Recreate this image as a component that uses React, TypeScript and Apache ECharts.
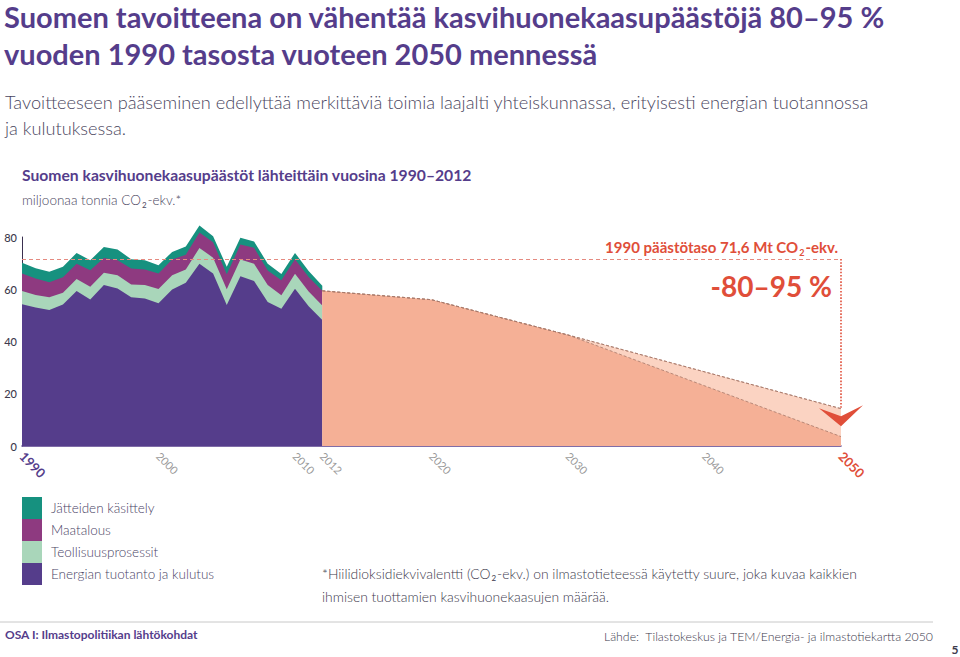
import React, { useEffect, useRef } from "react";
import * as echarts from "echarts";

const years = [1990, 1991, 1992, 1993, 1994, 1995, 1996, 1997, 1998, 1999, 2000, 2001, 2002, 2003, 2004, 2005, 2006, 2007, 2008, 2009, 2010, 2011, 2012];
const energia = [54.3, 53.0, 52.1, 54.2, 59.3, 56.1, 61.6, 60.3, 56.9, 56.5, 54.6, 59.9, 62.5, 69.8, 66.0, 54.0, 65.0, 63.2, 55.1, 52.5, 60.2, 53.5, 48.2];
const teollisuus = [5.0, 4.8, 4.8, 4.5, 4.6, 4.9, 4.7, 5.1, 4.9, 5.1, 5.5, 5.5, 5.1, 6.0, 6.1, 6.0, 6.4, 6.6, 6.5, 5.2, 5.7, 5.6, 5.6];
const maatalous = [6.7, 6.3, 5.8, 5.9, 5.9, 6.3, 5.7, 5.7, 6.1, 6.0, 5.9, 6.0, 5.6, 5.9, 5.9, 5.7, 5.7, 6.1, 5.6, 5.7, 5.6, 5.6, 5.6];
const jatteet = [4.1, 3.9, 4.0, 4.0, 4.1, 3.8, 4.2, 4.1, 3.6, 3.5, 3.2, 2.9, 3.2, 2.7, 2.3, 2.9, 2.6, 2.4, 2.6, 2.4, 2.4, 2.3, 1.9];

const forecastYears = [2012, 2020, 2030, 2050];
const forecast95 = [59.4, 56.0, 42.5, 3.6];
const forecast80 = [59.4, 56.0, 42.5, 14.3];

const level1990 = 71.6;
const targetMarker = [2050, 11.6];
const labeledYears = [1990, 2000, 2010, 2012, 2020, 2030, 2040, 2050];
const yTicks = [0, 20, 40, 60, 80];

const seriesNames = ["Jätteiden käsittely", "Maatalous", "Teollisuusprosessit", "Energian tuotanto ja kulutus"];

const PURPLE = "#553d8b";
const GREEN = "#a9d6ba";
const MAGENTA = "#8e3a80";
const TEAL = "#16917f";
const RED = "#e04e39";
const SALMON = "#f5b096";
const SALMON_LIGHT = "#fbd3c2";
const FONT = "Lato, 'Open Sans', sans-serif";

function pairs(xs: number[], ys: number[]) {
  return xs.map((x, i) => [x, ys[i]]);
}

export default function App() {
  const ref = useRef<HTMLDivElement>(null);
  useEffect(() => {
    if (!ref.current) return;
    const chart = echarts.init(ref.current, null, { renderer: "svg" });
    // cumulative stacking (bottom -> top)
    const layers = [energia, teollisuus, maatalous, jatteet];
    const cum: number[][] = [];
    layers.forEach((arr, li) => {
      cum.push(arr.map((v, i) => +((li > 0 ? cum[li - 1][i] : 0) + v).toFixed(2)));
    });
    const areaSeries = (name: string, data: number[], color: string) => ({
      name,
      type: "line",
      data: pairs(years, data),
      showSymbol: false,
      symbol: "none",
      clip: false,
      lineStyle: { width: 0 },
      itemStyle: { color },
      areaStyle: { color, opacity: 1 },
      z: 3,
    });
    const option: any = {
      animation: false,
      textStyle: { fontFamily: FONT },
      grid: { left: 22, right: 119, top: 237, bottom: 211 },
      xAxis: {
        type: "value",
        min: 1990,
        max: 2050,
        interval: 2,
        splitLine: { show: false },
        axisTick: { show: false },
        axisLine: { lineStyle: { color: PURPLE, width: 1.5 } },
        axisLabel: {
          rotate: -45,
          margin: 8,
          formatter: (v: number) => {
            if (!labeledYears.includes(v)) return "";
            if (v === 1990) return "{s|" + v + "}";
            if (v === 2050) return "{e|" + v + "}";
            return "{g|" + v + "}";
          },
          rich: {
            s: { color: PURPLE, fontWeight: "bold", fontSize: 13, fontFamily: FONT },
            e: { color: RED, fontWeight: "bold", fontSize: 13, fontFamily: FONT },
            g: { color: "#9a9a9a", fontSize: 11, fontFamily: FONT },
          },
        },
      },
      yAxis: {
        type: "value",
        min: yTicks[0],
        max: yTicks[yTicks.length - 1],
        interval: 20,
        splitLine: { show: false },
        axisLine: { show: true, lineStyle: { color: "#3a3050", width: 1 } },
        axisTick: { show: false },
        axisLabel: { color: "#3d3a4d", fontSize: 11, margin: 5, padding: [0, 0, 6, 0], fontFamily: FONT, fontWeight: 500 },
      },
      legend: {
        data: seriesNames,
        orient: "vertical",
        left: 22,
        top: 497,
        padding: 0,
        itemGap: 0,
        itemWidth: 20,
        itemHeight: 22,
        icon: "rect",
        selectedMode: false,
        textStyle: { fontSize: 13.5, color: "#4a4466", fontWeight: 300, fontFamily: FONT, padding: [0, 0, 0, 4] },
      },
      series: [
        {
          name: "ref",
          type: "line",
          data: [],
          z: 1,
          silent: true,
          markLine: {
            silent: true,
            symbol: "none",
            label: { show: false },
            lineStyle: { color: "#e58a80", type: [4, 3], width: 1.2 },
            data: [{ yAxis: level1990 }],
          },
        },
        areaSeries(seriesNames[0], cum[3], TEAL),
        areaSeries(seriesNames[1], cum[2], MAGENTA),
        areaSeries(seriesNames[2], cum[1], GREEN),
        areaSeries(seriesNames[3], cum[0], PURPLE),
        {
          name: "Tavoite -80 %",
          type: "line",
          data: pairs(forecastYears, forecast80),
          showSymbol: false,
          symbol: "none",
          lineStyle: { color: "#a8786a", width: 0.8, type: [3, 2] },
          areaStyle: { color: SALMON_LIGHT, opacity: 1 },
          z: 3,
        },
        {
          name: "Tavoite -95 %",
          type: "line",
          data: pairs(forecastYears, forecast95),
          showSymbol: false,
          symbol: "none",
          lineStyle: { color: "#a8786a", width: 0.8, type: [3, 2] },
          areaStyle: { color: SALMON, opacity: 1 },
          z: 3,
        },
        {
          name: "Tavoite -80 % viiva",
          type: "line",
          data: pairs(forecastYears, forecast80),
          showSymbol: false,
          symbol: "none",
          lineStyle: { color: "#a8786a", width: 0.8, type: [3, 2] },
          z: 4,
        },
        {
          name: "markers",
          type: "line",
          data: [],
          z: 5,
          silent: true,
          markLine: {
            silent: true,
            symbol: "none",
            label: { show: false },
            lineStyle: { color: RED, type: "dotted", width: 1.6 },
            data: [[{ coord: [2050, level1990] }, { coord: [2050, forecast80[forecast80.length - 1]] }]],
          },
          markPoint: {
            silent: true,
            symbol: "path://M0,0 L22,8 L44,-3 L22,18 Z",
            symbolSize: [44, 21],
            symbolKeepAspect: false,
            itemStyle: { color: RED },
            label: { show: false },
            data: [{ coord: targetMarker }],
          },
        },
      ],
      graphic: [
        {
          type: "text", left: 4, top: 2,
          style: { text: "Suomen tavoitteena on vähentää kasvihuonekaasupäästöjä 80–95 %", font: `bold 29px ${FONT}`, fill: PURPLE },
        },
        {
          type: "text", left: 4, top: 39,
          style: { text: "vuoden 1990 tasosta vuoteen 2050 mennessä", font: `bold 29px ${FONT}`, fill: PURPLE },
        },
        {
          type: "text", left: 5, top: 93,
          style: { text: "Tavoitteeseen pääseminen edellyttää merkittäviä toimia laajalti yhteiskunnassa, erityisesti energian tuotannossa", font: `300 18.2px ${FONT}`, fill: "#4a4660" },
        },
        {
          type: "text", left: 5, top: 119,
          style: { text: "ja kulutuksessa.", font: `300 18.2px ${FONT}`, fill: "#4a4660" },
        },
        {
          type: "text", left: 22, top: 167,
          style: { text: "Suomen kasvihuonekaasupäästöt lähteittäin vuosina 1990–2012", font: `bold 15.7px ${FONT}`, fill: PURPLE },
        },
        {
          type: "text", left: 22, top: 193,
          style: {
            text: "{a|miljoonaa tonnia CO}{b|2}{a|-ekv.*}",
            rich: {
              a: { fontSize: 13.5, fontFamily: FONT, fill: "#4a4660", fontWeight: 300 },
              b: { fontSize: 8, fontFamily: FONT, fill: "#4a4660", padding: [9, 1, 0, 1] },
            },
          },
        },
        {
          type: "text", x: 838, y: 247,
          style: {
            text: "{a|1990 päästötaso 71,6 Mt CO}{b|2}{a|-ekv.}",
            align: "right", verticalAlign: "middle",
            rich: {
              a: { fontSize: 15, fontFamily: FONT, fill: RED, fontWeight: "bold" },
              b: { fontSize: 9, fontFamily: FONT, fill: RED, fontWeight: "bold", padding: [10, 1, 0, 1] },
            },
          },
        },
        {
          type: "text", x: 832, y: 286,
          style: { text: "-80–95 %", align: "right", verticalAlign: "middle", font: `bold 28px ${FONT}`, fill: RED },
        },
        {
          type: "text", left: 322, top: 566,
          style: {
            text: "{a|*Hiilidioksidiekvivalentti (CO}{b|2}{a|-ekv.) on ilmastotieteessä käytetty suure, joka kuvaa kaikkien}",
            rich: {
              a: { fontSize: 13.9, fontFamily: FONT, fill: "#3d3a4d", fontWeight: 300 },
              b: { fontSize: 8, fontFamily: FONT, fill: "#3d3a4d", padding: [9, 1, 0, 1] },
            },
          },
        },
        {
          type: "text", left: 322, top: 589,
          style: { text: "ihmisen tuottamien kasvihuonekaasujen määrää.", font: `300 13.9px ${FONT}`, fill: "#3d3a4d" },
        },
        {
          type: "line", shape: { x1: 0, y1: 622, x2: 933, y2: 622 },
          style: { stroke: "#c8c8c8", lineWidth: 1 },
        },
        {
          type: "text", left: 5, top: 628,
          style: { text: "OSA I: Ilmastopolitiikan lähtökohdat", font: `bold 12px ${FONT}`, fill: PURPLE },
        },
        {
          type: "text", x: 933, y: 636,
          style: { text: "Lähde:  Tilastokeskus ja TEM/Energia- ja ilmastotiekartta 2050", align: "right", verticalAlign: "middle", font: `300 12.3px ${FONT}`, fill: "#3d3a4d" },
        },
        {
          type: "text", x: 955, y: 649,
          style: { text: "5", align: "center", verticalAlign: "middle", font: `bold 12px ${FONT}`, fill: "#3d3a4d" },
        },
      ],
    };
    chart.setOption(option);
    return () => chart.dispose();
  }, []);
  return <div ref={ref} style={{ position: "fixed", left: 0, top: 0, width: 960, height: 657, background: "#fff" }} />;
}
